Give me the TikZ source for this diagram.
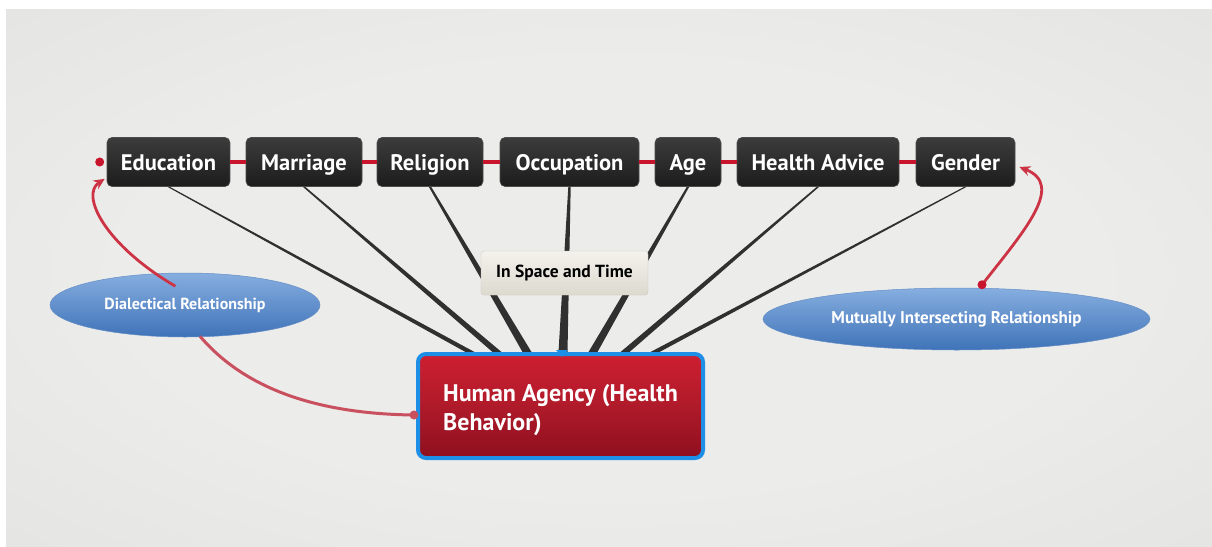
\documentclass[tikz,border=0pt]{standalone}
\usepackage{fontspec}
\setmainfont{PT Sans}
\usetikzlibrary{calc,shapes.geometric,arrows.meta}
\definecolor{bgin}{HTML}{ECECEA}
\definecolor{bgout}{HTML}{D2D4D1}
\definecolor{boxtop}{HTML}{3C3C3C}
\definecolor{boxbot}{HTML}{1C1C1C}
\definecolor{linkred}{HTML}{C8142C}
\definecolor{curvered}{HTML}{CC3445}
\definecolor{softred}{HTML}{C9505E}
\definecolor{darkline}{HTML}{303030}
\definecolor{hatop}{HTML}{CE1F31}
\definecolor{habot}{HTML}{8E0F1F}
\definecolor{haborder}{HTML}{1E8FE6}
\definecolor{elltop}{HTML}{86AEE0}
\definecolor{ellbot}{HTML}{3F73B8}
\definecolor{notetop}{HTML}{F4F2EC}
\definecolor{notebot}{HTML}{DCD9CF}
\pgfdeclareradialshading{bgshade}{\pgfpoint{0bp}{0bp}}{%
  color(0bp)=(bgin); color(20bp)=(bgin); color(45bp)=(bgin!55!bgout); color(72bp)=(bgout)}
\tikzset{
  catbox/.style={rectangle, rounded corners=5pt, top color=boxtop, bottom color=boxbot,
    draw=black!70, line width=0.6pt, text=white, font=\fontsize{22.5}{26}\selectfont\bfseries,
    minimum height=49pt, inner sep=0pt, text height=19pt, text depth=2pt},
  relell/.style={ellipse, top color=elltop, bottom color=ellbot, draw=ellbot!80!white,
    line width=0.5pt, text=white, inner sep=0pt, text height=11pt, text depth=3pt},
  notebox/.style={rectangle, rounded corners=3pt, top color=notetop, bottom color=notebot,
    draw=notebot!90!black, line width=0.3pt, text=black,
    font=\fontsize{17.5}{20}\selectfont\bfseries, minimum width=167pt, minimum height=44pt},
  mainbox/.style={rectangle, rounded corners=8pt, top color=hatop, bottom color=habot,
    middle color=hatop!85!black, draw=haborder, line width=4pt, text=white,
    minimum width=285pt, minimum height=104pt, inner sep=0pt},
  chain/.style={draw=linkred, line width=4pt},
  relcurve/.style={draw=curvered, line width=2.8pt},
  spoke/.style={fill=darkline, draw=none},
}
\begin{document}
\begin{tikzpicture}[x=1pt,y=-1pt]
\useasboundingbox (0,0) rectangle (1212,546);
\fill[white] (0,0) rectangle (1212,546);
\shade[shading=bgshade] (6,9) rectangle (1212,546);

% nodes
\node[catbox, minimum width=123pt] (edu) at (168.5,162) {Education};
\node[catbox, minimum width=116pt] (mar) at (304,162) {Marriage};
\node[catbox, minimum width=106pt] (rel) at (430,162) {Religion};
\node[catbox, minimum width=139pt] (occ) at (569.5,162) {Occupation};
\node[catbox, minimum width=66pt]  (age) at (688,162) {Age};
\node[catbox, minimum width=162pt] (hea) at (818,162) {Health Advice};
\node[catbox, minimum width=99pt]  (gen) at (965.5,162) {Gender};

% chain links
\draw[chain] (edu.east) -- (mar.west);
\draw[chain] (mar.east) -- (rel.west);
\draw[chain] (rel.east) -- (occ.west);
\draw[chain] (occ.east) -- (age.west);
\draw[chain] (age.east) -- (hea.west);
\draw[chain] (hea.east) -- (gen.west);

\coordinate (hatop) at (562,352);

% spokes (tapered)
\foreach \n/\dx in {edu/-92, mar/-65, rel/-35, occ/1, age/31, hea/63, gen/93}{
  \fill[spoke] ($(\n.south)+(-1.2,0)$) -- ($(\n.south)+(1.2,0)$)
     -- ($(hatop)+(\dx+4.5,0)$) -- ($(hatop)+(\dx-4.5,0)$) -- cycle;
}

\node[notebox] (ist) at (564.5,273) {In Space and Time};

\node[mainbox] (ha) at (560.5,406) {};
\node[text=white, font=\fontsize{24}{29}\selectfont\bfseries, align=left, anchor=north west,
  inner sep=0pt] (hatext) at (443,384) {Human Agency (Health\\Behavior)};
\fill[haborder] ($(hatop)+(-6,-2)$) -- ($(hatop)+(6,-2)$) -- ($(hatop)+(0,5)$) -- cycle;

\node[relell, minimum width=270pt, minimum height=64pt,
  font=\fontsize{16}{18}\selectfont\bfseries] (dia) at (185,305) {Dialectical Relationship};
\node[relell, minimum width=387pt, minimum height=62pt,
  font=\fontsize{17}{19}\selectfont\bfseries] (mut) at (956.5,319) {Mutually Intersecting Relationship};

% red relationship curves
\coordinate (eduin) at ($(edu.south west)+(-2,-8)$);
\draw[relcurve, -{Stealth[length=11pt,width=10pt]}] ($(dia.north west)+(86,4)$)
   .. controls (105,245) and (80,195) .. (eduin);
\fill[linkred] ($(edu.west)+(-7,0)$) circle (4.5pt);

\coordinate (hain) at ($(ha.west)+(-2,9)$);
\draw[draw=softred, line width=3pt] ($(dia.south)+(15,-1)$)
   .. controls (250,395) and (330,414) .. (hain);
\fill[softred] (hain) circle (4.5pt);

\coordinate (mutout) at ($(mut.north)+(25.5,-3)$);
\coordinate (genin) at ($(gen.east)+(4,5)$);
\draw[relcurve, -{Stealth[length=11pt,width=10pt]}] (mutout)
   .. controls (1025,230) and (1065,185) .. (genin);
\fill[linkred] (mutout) circle (4.5pt);
\end{tikzpicture}
\end{document}
